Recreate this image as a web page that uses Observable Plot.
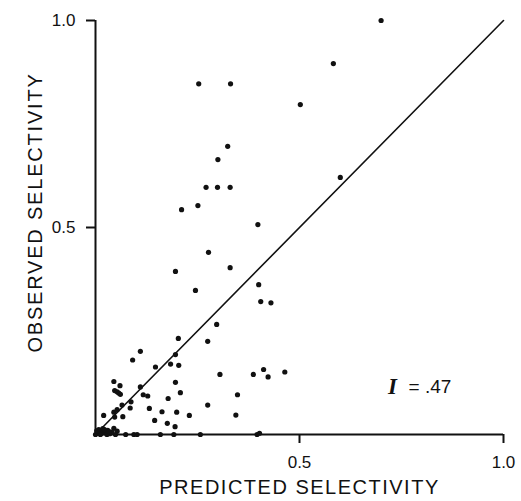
<!DOCTYPE html>
<html>
<head>
<meta charset="utf-8">
<script src="https://cdn.jsdelivr.net/npm/d3@7"></script>
<script src="https://cdn.jsdelivr.net/npm/@observablehq/plot@0.6"></script>
<style>
  html, body { margin: 0; padding: 0; background: #fff; }
</style>
</head>
<body>
<div id="chart"></div>
<script>
// Predicted vs observed selectivity
const predicted = [
  0.700, 0.583, 0.502, 0.600, 0.253, 0.331, 0.324, 0.300, 0.271, 0.299,
  0.330, 0.211, 0.251, 0.398, 0.277, 0.196, 0.330, 0.245, 0.400, 0.405,
  0.430, 0.297, 0.203, 0.275, 0.110, 0.091, 0.196, 0.147, 0.184, 0.204,
  0.305, 0.387, 0.412, 0.423, 0.464, 0.045, 0.060, 0.110, 0.196, 0.047,
  0.053, 0.057, 0.061, 0.208, 0.117, 0.128, 0.087, 0.065, 0.085, 0.178,
  0.132, 0.163, 0.199, 0.275, 0.348, 0.344, 0.230, 0.145, 0.176, 0.195,
  0.020, 0.045, 0.053, 0.047, 0.067, 0.045, 0.053,
  0.049, 0.074, 0.094, 0.102, 0.159, 0.192, 0.257, 0.396, 0.402,
  0.000, 0.005, 0.010, 0.015, 0.020, 0.025, 0.030, 0.008, 0.018, 0.035,
  0.040, 0.012, 0.028, 0.003, 0.022, 0.033
];
const observed = [
  1.000, 0.896, 0.797, 0.621, 0.847, 0.847, 0.696, 0.664, 0.597, 0.597,
  0.597, 0.543, 0.553, 0.507, 0.440, 0.394, 0.403, 0.348, 0.362, 0.321,
  0.318, 0.266, 0.232, 0.225, 0.201, 0.180, 0.193, 0.163, 0.170, 0.167,
  0.145, 0.145, 0.157, 0.139, 0.151, 0.128, 0.118, 0.115, 0.126, 0.106,
  0.103, 0.100, 0.097, 0.101, 0.096, 0.093, 0.079, 0.071, 0.064, 0.087,
  0.063, 0.055, 0.054, 0.071, 0.096, 0.047, 0.046, 0.034, 0.027, 0.019,
  0.046, 0.054, 0.060, 0.042, 0.043, 0.015, 0.008,
  0.000, 0.000, 0.000, 0.000, 0.000, 0.000, 0.000, 0.000, 0.003,
  0.000, 0.004, 0.006, 0.003, 0.008, 0.004, 0.010, 0.012, 0.014, 0.002,
  0.006, 0.000, 0.000, 0.009, 0.012, 0.007
];
const xTicks = [0.5, 1.0];
const yTicks = [0.5, 1.0];
const identityLine = [0, 1];
const xLabel = "PREDICTED SELECTIVITY";
const yLabel = "OBSERVED SELECTIVITY";
const statSymbol = ["I"];
const statValue = ["= .47"];
const statPos = {x: 0.728, y: 0.116};

const points = predicted.map((p, i) => ({predicted: p, observed: observed[i]}));

const font = "'Liberation Sans', Arial, sans-serif";

const chart = Plot.plot({
  width: 521,
  height: 501,
  marginLeft: 95,
  marginRight: 18,
  marginTop: 20,
  marginBottom: 67,
  style: {fontFamily: font, color: "#111", background: "#fff"},
  x: {domain: [0, 1]},
  y: {domain: [0, 1]},
  marks: [
    Plot.axisX({ticks: xTicks, tickFormat: d => d.toFixed(1), tickSize: 9, tickPadding: 12,
                fontSize: 17, strokeWidth: 2, label: null}),
    Plot.axisY({ticks: yTicks, tickFormat: d => d.toFixed(1), tickSize: 9, tickPadding: 11,
                fontSize: 17, strokeWidth: 2, label: null}),
    Plot.ruleY([0], {stroke: "#111", strokeWidth: 2}),
    Plot.ruleX([0], {stroke: "#111", strokeWidth: 2}),
    Plot.line(identityLine, {x: d => d, y: d => d, stroke: "#111", strokeWidth: 1.6}),
    Plot.dot(points, {x: "predicted", y: "observed", r: 2.6, fill: "#111", stroke: "none"}),
    Plot.text(statSymbol, {x: statPos.x, y: statPos.y, text: d => d, fontSize: 23,
                fontFamily: "'Liberation Serif', serif", fontWeight: "bold", fontStyle: "italic", fill: "#111"}),
    Plot.text(statValue, {x: statPos.x, y: statPos.y, text: d => d, dx: 16, textAnchor: "start",
                fontSize: 19, fill: "#111"}),
    Plot.text([xLabel], {frameAnchor: "bottom", text: d => d, dy: 59, fontSize: 20, fill: "#111"}),
    Plot.text([yLabel], {frameAnchor: "left", textAnchor: "middle", lineAnchor: "middle",
                text: d => d, rotate: -90, dx: -60, dy: -15, fontSize: 20, fill: "#111"})
  ]
});

document.getElementById("chart").appendChild(chart);

d3.select(chart).selectAll("text").each(function() {
  const t = this.textContent;
  if (t === xLabel) this.setAttribute("letter-spacing", "1.5");
  if (t === yLabel) this.setAttribute("letter-spacing", "1.8");
});
</script>
</body>
</html>
